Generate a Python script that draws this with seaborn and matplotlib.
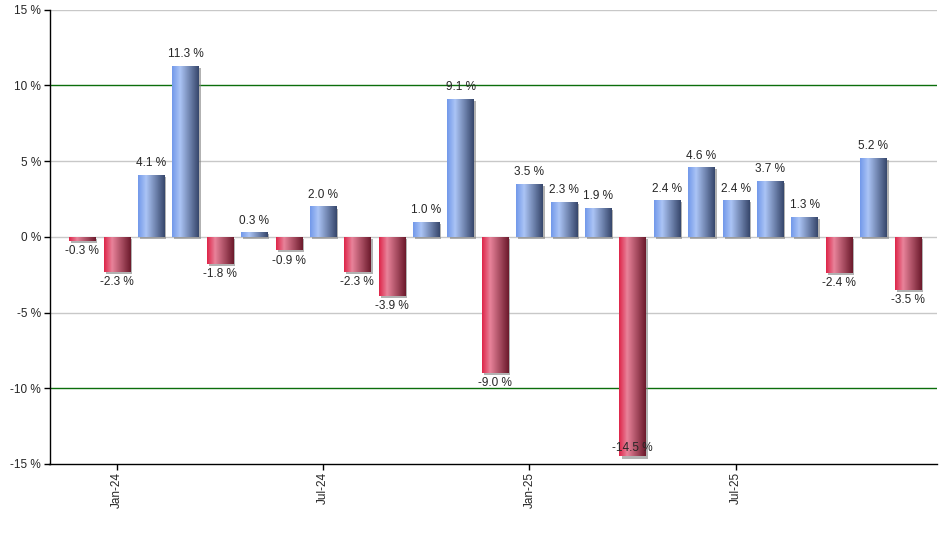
import numpy as np
import pandas as pd
import matplotlib
matplotlib.use("Agg")
import matplotlib.pyplot as plt
import matplotlib.patheffects as pe
from matplotlib.colors import LinearSegmentedColormap
import seaborn as sns

# monthly returns, Dec-23 .. Dec-25
months = ['Dec-23', 'Jan-24', 'Feb-24', 'Mar-24', 'Apr-24', 'May-24', 'Jun-24', 'Jul-24',
          'Aug-24', 'Sep-24', 'Oct-24', 'Nov-24', 'Dec-24', 'Jan-25', 'Feb-25', 'Mar-25',
          'Apr-25', 'May-25', 'Jun-25', 'Jul-25', 'Aug-25', 'Sep-25', 'Oct-25', 'Nov-25', 'Dec-25']
returns = [-0.3, -2.3, 4.1, 11.3, -1.8, 0.3, -0.9, 2.0, -2.3, -3.9, 1.0, 9.1, -9.0,
           3.5, 2.3, 1.9, -14.5, 2.4, 4.6, 2.4, 3.7, 1.3, -2.4, 5.2, -3.5]
shown_ticks = ['Jan-24', 'Jul-24', 'Jan-25', 'Jul-25']

df = pd.DataFrame({'month': months, 'ret': returns})

sns.set_style("white")
plt.rcParams['font.family'] = ['Liberation Sans', 'DejaVu Sans']

fig = plt.figure(figsize=(9.4, 5.5), dpi=100)
ax = fig.add_axes([49.5 / 940, 1 - 464 / 550, (937 - 49.5) / 940, (464 - 9.5) / 550])

sns.barplot(data=df, x='month', y='ret', ax=ax, width=0.76, color='white',
            saturation=1, zorder=3)

blue_cm = LinearSegmentedColormap.from_list('b', [(0, '#7299ea'), (0.3, '#abc4f5'), (1, '#37476c')])
red_cm = LinearSegmentedColormap.from_list('r', [(0, '#de2649'), (0.3, '#e8839a'), (1, '#6c1a2c')])
grad = np.linspace(0, 1, 64).reshape(1, -1)

for bar, v in zip(ax.patches, df['ret']):
    bar.set_edgecolor('none')
    bar.set_path_effects([pe.SimplePatchShadow(offset=(1.5, -1.5), shadow_rgbFace='#808080', alpha=0.6),
                          pe.Normal()])
    x0, w = bar.get_x(), bar.get_width()
    y0, h = bar.get_y(), bar.get_height()
    im = ax.imshow(grad, cmap=blue_cm if v >= 0 else red_cm, aspect='auto',
                   extent=(x0, x0 + w, min(y0, y0 + h), max(y0, y0 + h)), zorder=4)
    im.set_clip_path(bar)
    lbl = f'{v:.1f} %'
    if v >= 0:
        ax.annotate(lbl, (x0 + w / 2, v), xytext=(0, 4), textcoords='offset points',
                    ha='center', va='bottom', fontsize=8.5, zorder=5)
    elif v < -14:
        ax.annotate(lbl, (x0 + w / 2, v), xytext=(0, 2), textcoords='offset points',
                    ha='center', va='bottom', fontsize=8.5, zorder=5)
    else:
        ax.annotate(lbl, (x0 + w / 2, v), xytext=(0, -3), textcoords='offset points',
                    ha='center', va='top', fontsize=8.5, zorder=5)

ax.set_xlim(-0.95, len(months) - 1 + 0.85)
ax.set_ylim(-15, 15)
ax.set_yticks(range(-15, 16, 5))
ax.set_yticklabels([f'{t} %' for t in range(-15, 16, 5)], fontsize=8.5)

for t in range(-15, 16, 5):
    if abs(t) == 10:
        ax.axhline(t, color='#0b6e0b', lw=1.0, zorder=1)
    elif t != -15:
        ax.axhline(t, color='#c8c8c8', lw=1, zorder=1)

tick_pos = [months.index(m) for m in shown_ticks]
ax.set_xticks(tick_pos)
ax.set_xticklabels(shown_ticks, rotation=90, fontsize=8.5)
ax.set_xlabel('')
ax.set_ylabel('')

for s in ['top', 'right']:
    ax.spines[s].set_visible(False)
for s in ['left', 'bottom']:
    ax.spines[s].set_color('black')
    ax.spines[s].set_linewidth(1)
ax.tick_params(axis='both', which='major', direction='out', length=4, width=1,
               color='black', left=True, bottom=True, pad=2)

fig.savefig('out.png', dpi=100)
